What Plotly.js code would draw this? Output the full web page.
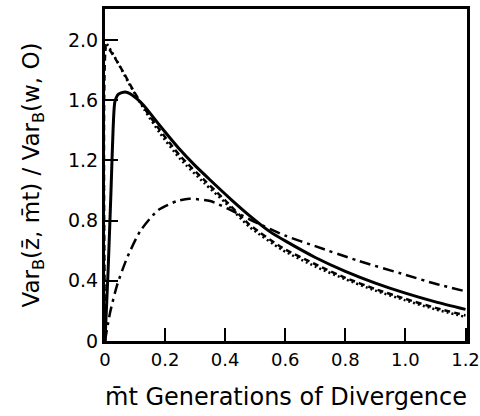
<!DOCTYPE html>
<html>
<head>
<meta charset="utf-8">
<script src="https://cdn.plot.ly/plotly-3.0.1.min.js"></script>
<style>html,body{margin:0;padding:0;background:#fff}#chart{width:480px;height:416px}</style>
</head>
<body>
<div id="chart"></div>
<script>
// Solid curve
const solidX = [0, 0.01, 0.02, 0.027, 0.033, 0.045, 0.067, 0.09, 0.127, 0.183, 0.25, 0.3, 0.35, 0.42, 0.483, 0.55, 0.6, 0.7, 0.8, 0.9, 1.0, 1.1, 1.2];
const solidY = [0, 0.45, 1.0, 1.41, 1.59, 1.64, 1.655, 1.635, 1.57, 1.43, 1.27, 1.165, 1.07, 0.94, 0.83, 0.725, 0.665, 0.555, 0.463, 0.385, 0.318, 0.26, 0.21];
// Dashed curve
const dashX = [0, 0.004, 0.01, 0.027, 0.06, 0.093, 0.13, 0.183, 0.25, 0.33, 0.4, 0.48, 0.59, 0.7, 0.8, 0.9, 1.0, 1.1, 1.2];
const dashY = [0, 1.96, 1.95, 1.90, 1.79, 1.67, 1.55, 1.40, 1.23, 1.07, 0.935, 0.775, 0.62, 0.51, 0.42, 0.345, 0.28, 0.22, 0.17];
// Dotted curve
const dotX = [0, 0.002, 0.02, 0.04, 0.08, 0.13, 0.183, 0.25, 0.33, 0.4, 0.48, 0.59, 0.7, 0.8, 0.9, 1.0, 1.1, 1.2];
const dotY = [0, 1.98, 1.93, 1.86, 1.71, 1.54, 1.38, 1.21, 1.05, 0.92, 0.76, 0.605, 0.495, 0.41, 0.335, 0.27, 0.21, 0.16];
// Dash-dot curve
const ddX = [0, 0.017, 0.04, 0.073, 0.117, 0.177, 0.24, 0.28, 0.35, 0.44, 0.5, 0.6, 0.7, 0.84, 1.0, 1.1, 1.2];
const ddY = [0, 0.19, 0.37, 0.55, 0.73, 0.87, 0.93, 0.945, 0.93, 0.85, 0.79, 0.70, 0.63, 0.535, 0.44, 0.38, 0.33];

const xTickVals = [0, 0.2, 0.4, 0.6, 0.8, 1.0, 1.2];
const xTickText = ["0", "0.2", "0.4", "0.6", "0.8", "1.0", "1.2"];
const yTickVals = [0, 0.4, 0.8, 1.2, 1.6, 2.0];
const yTickText = ["0", "0.4", "0.8", "1.2", "1.6", "2.0"];

const traces = [
  {x: solidX, y: solidY, mode: 'lines', line: {color: '#000', width: 3, shape: 'spline', smoothing: 0.6}},
  {x: dashX, y: dashY, mode: 'lines', line: {color: '#000', width: 2.5, dash: '6px,4px', shape: 'spline', smoothing: 0.6}},
  {x: dotX, y: dotY, mode: 'lines', line: {color: '#000', width: 2.5, dash: '2px,3px', shape: 'spline', smoothing: 0.6}},
  {x: ddX, y: ddY, mode: 'lines', line: {color: '#000', width: 2.5, dash: '11px,5px,3px,5px', shape: 'spline', smoothing: 0.6}}
];

const fontFam = '"DejaVu Sans", Arial, sans-serif';
const layout = {
  width: 480, height: 416,
  margin: {l: 105, r: 13, t: 9, b: 75},
  paper_bgcolor: '#fff', plot_bgcolor: '#fff',
  showlegend: false,
  font: {family: fontFam, color: '#000', size: 19},
  xaxis: {
    range: [0, 1.205], tickvals: xTickVals, ticktext: xTickText,
    ticks: 'inside', ticklen: 13, tickwidth: 2, tickcolor: '#000',
    showline: true, linewidth: 3, linecolor: '#000', mirror: true,
    showgrid: false, zeroline: false, ticklabeloverflow: 'allow',
    tickfont: {size: 18},
    title: {text: 'm\u0304t Generations of Divergence', font: {size: 24}, standoff: 20}
  },
  yaxis: {
    range: [0, 2.206], tickvals: yTickVals, ticktext: yTickText,
    ticks: 'inside', ticklen: 13, tickwidth: 2, tickcolor: '#000',
    showline: true, linewidth: 3, linecolor: '#000', mirror: true,
    showgrid: false, zeroline: false,
    tickfont: {size: 19},
    title: {text: 'Var<sub>B</sub>(z\u0304, m\u0304t) / Var<sub>B</sub>(w, O)', font: {size: 23}, standoff: 22}
  }
};
Plotly.newPlot('chart', traces, layout, {displayModeBar: false, staticPlot: true});
</script>
</body>
</html>
